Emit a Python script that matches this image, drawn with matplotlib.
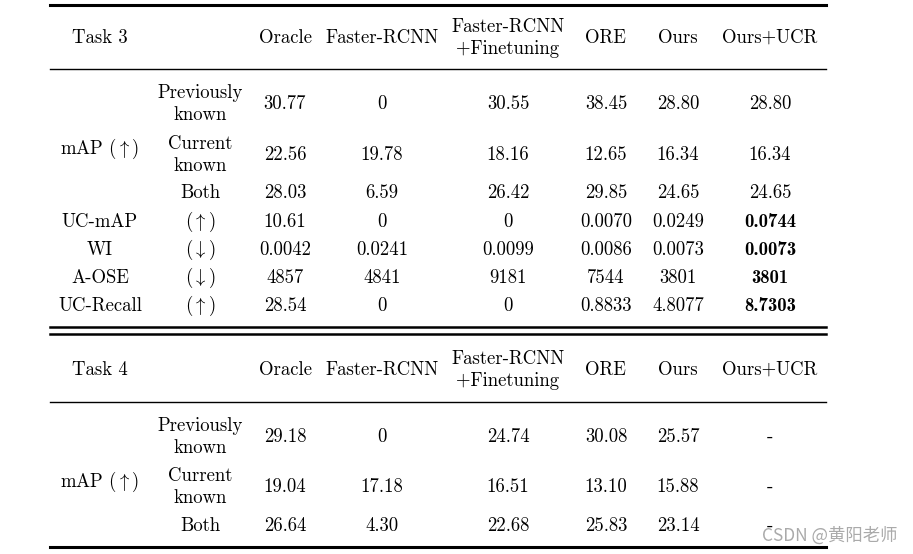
import matplotlib
matplotlib.use('Agg')
import matplotlib.pyplot as plt

plt.rcParams['mathtext.fontset'] = 'cm'

# table contents
methods = ['Oracle', 'Faster-RCNN', 'Faster-RCNN\n+Finetuning', 'ORE', 'Ours', 'Ours+UCR']

t3_prev_known = ['30.77', '0', '30.55', '38.45', '28.80', '28.80']
t3_curr_known = ['22.56', '19.78', '18.16', '12.65', '16.34', '16.34']
t3_both = ['28.03', '6.59', '26.42', '29.85', '24.65', '24.65']
t3_uc_map = ['10.61', '0', '0', '0.0070', '0.0249', '0.0744']
t3_wi = ['0.0042', '0.0241', '0.0099', '0.0086', '0.0073', '0.0073']
t3_a_ose = ['4857', '4841', '9181', '7544', '3801', '3801']
t3_uc_recall = ['28.54', '0', '0', '0.8833', '4.8077', '8.7303']

t4_prev_known = ['29.18', '0', '24.74', '30.08', '25.57', '-']
t4_curr_known = ['19.04', '17.18', '16.51', '13.10', '15.88', '-']
t4_both = ['26.64', '4.30', '22.68', '25.83', '23.14', '-']

up = r'$(\uparrow)$'
down = r'$(\downarrow)$'

# layout (pixels)
col_x = [285, 382, 508, 606, 678, 770]
x_name, x_sub = 100, 200
x0, x1 = 50, 826
fs = 13.5
dy = 2

fig = plt.figure(figsize=(9.13, 5.54), dpi=100)
ax = fig.add_axes([0, 0, 1, 1])
ax.set_xlim(0, 913)
ax.set_ylim(554, 0)
ax.axis('off')


def txt(x, y, s, bold=False, **kw):
    ax.text(x, y + dy, s, ha='center', va='center', fontsize=fs,
            family='cmb10' if bold else 'cmr10', linespacing=1.3, **kw)


def row(y, vals, sub=None, bold_last=False):
    if sub is not None:
        txt(x_sub, y, sub)
    for i, (x, v) in enumerate(zip(col_x, vals)):
        txt(x, y, v, bold=(bold_last and i == len(vals) - 1))


def header(y, task):
    txt(x_name, y, task)
    for x, m in zip(col_x, methods):
        txt(x, y, m)


# Task 3
ax.plot([x0, x1], [5, 5], color='black', lw=2.2)
header(36, 'Task 3')
ax.plot([x0, x1], [69, 69], color='black', lw=1.0)
row(102, t3_prev_known, 'Previously\nknown')
row(153, t3_curr_known, 'Current\nknown')
row(191, t3_both, 'Both')
txt(x_name, 147, 'mAP ' + up)
txt(x_name, 220, 'UC-mAP'); row(220, t3_uc_map, up, bold_last=True)
txt(x_name, 248, 'WI'); row(248, t3_wi, down, bold_last=True)
txt(x_name, 276, 'A-OSE'); row(276, t3_a_ose, down, bold_last=True)
txt(x_name, 304, 'UC-Recall'); row(304, t3_uc_recall, up, bold_last=True)
ax.plot([x0, x1], [327, 327], color='black', lw=1.8)
ax.plot([x0, x1], [334, 334], color='black', lw=1.8)

# Task 4
header(368, 'Task 4')
ax.plot([x0, x1], [402, 402], color='black', lw=1.0)
row(435, t4_prev_known, 'Previously\nknown')
row(485, t4_curr_known, 'Current\nknown')
row(524, t4_both, 'Both')
txt(x_name, 480, 'mAP ' + up)
ax.plot([x0, x1], [547, 547], color='black', lw=2.2)

ax.text(898, 536, 'CSDN @黄阳老师', ha='right', va='center', fontsize=12.5,
        color='#aaaaaa', family=['Noto Sans CJK SC', 'DejaVu Sans'])

fig.savefig('out.png', dpi=100)
